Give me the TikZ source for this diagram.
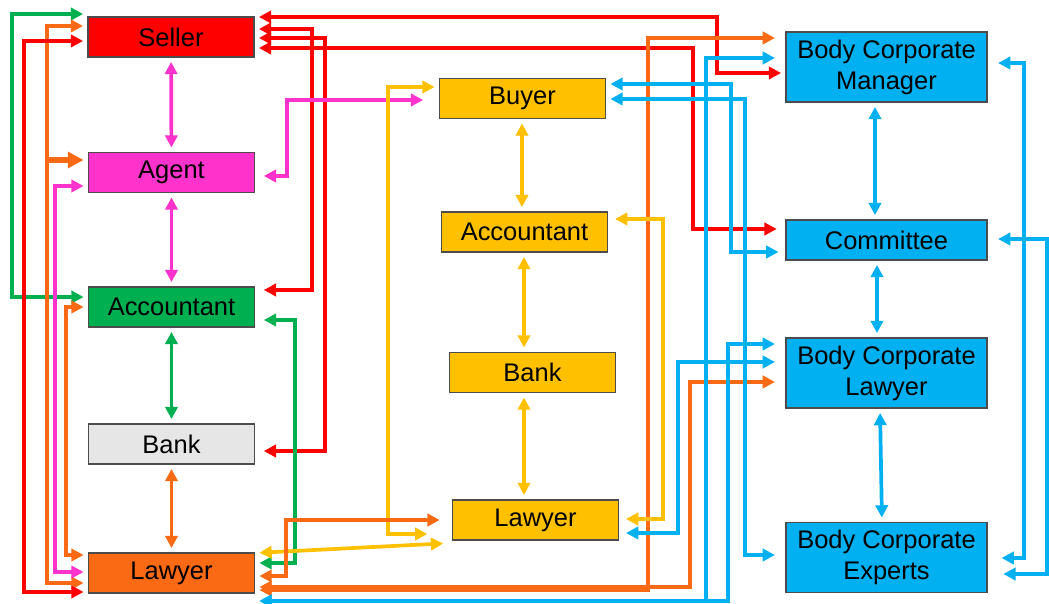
\documentclass[tikz,border=0pt]{standalone}
\usepackage{fontspec}
\setmainfont{Liberation Sans}
\usetikzlibrary{arrows.meta}
\definecolor{sred}{RGB}{255,0,0}
\definecolor{spink}{RGB}{255,51,204}
\definecolor{sgreen}{RGB}{0,176,80}
\definecolor{sgray}{RGB}{230,230,230}
\definecolor{sorange}{RGB}{250,106,20}
\definecolor{sgold}{RGB}{255,192,0}
\definecolor{sblue}{RGB}{0,176,240}
\tikzset{
  party/.style={draw=black!70, line width=0.6pt, fill=#1, minimum width=3.32cm,
    minimum height=0.8cm, inner sep=0pt, align=center,
    font=\fontsize{14.5}{17.6}\selectfont},
  corp/.style={party=sblue, minimum width=4.02cm, minimum height=1.4cm},
  link/.style={draw=#1, line width=2.1pt,
    {Triangle[length=7pt,width=7pt]}-{Triangle[length=7pt,width=7pt]},
    shorten <=2.5pt, shorten >=2.5pt},
}
\begin{document}
\begin{tikzpicture}[x=0.02cm,y=-0.02cm]
  \useasboundingbox (0,0) rectangle (1049,604);

  % seller side
  \node[party=sred]    (seller) at (171,37)    {Seller};
  \node[party=spink]   (agent)  at (171.5,172.5) {Agent};
  \node[party=sgreen]  (accL)   at (171.5,307) {Accountant};
  \node[party=sgray]   (bankL)  at (171.5,444) {Bank};
  \node[party=sorange] (lawL)   at (171.5,573) {Lawyer};

  % buyer side
  \node[party=sgold] (buyer) at (522.5,98.5) {Buyer};
  \node[party=sgold] (accM)  at (524.5,232)  {Accountant};
  \node[party=sgold] (bankM) at (532.5,372.5) {Bank};
  \node[party=sgold] (lawM)  at (535.5,520)  {Lawyer};

  % body corporate
  \node[corp] (bcm)  at (886.5,67)   {Body Corporate\\Manager};
  \node[corp, minimum height=0.8cm] (cmte) at (886.5,240) {Committee};
  \node[corp] (bcl)  at (886.5,373)  {Body Corporate\\Lawyer};
  \node[corp] (bce)  at (886.5,557.5) {Body Corporate\\Experts};

  % columns
  \draw[link=spink]   (seller) -- (agent);
  \draw[link=spink]   (agent) -- (accL);
  \draw[link=sgreen]  (accL) -- (bankL);
  \draw[link=sorange] (bankL) -- (lawL);
  \draw[link=sgold] (buyer.south -| 522,0) -- (accM.north -| 522,0);
  \draw[link=sgold] (accM.south -| 524,0) -- (bankM.north -| 524,0);
  \draw[link=sgold] (bankM.south -| 524,0) -- (lawM.north -| 524,0);
  \draw[link=sblue] (bcm.south -| 875,0) -- (cmte.north -| 875,0);
  \draw[link=sblue] (cmte.south -| 877,0) -- (bcl.north -| 877,0);
  \draw[link=sblue] (bcl.south -| 880,0) -- (bce.north -| 882,0);

  % left of the seller side
  \draw[link=sgreen]  (accL.west |- 0,297) -| (12,14) -- (seller.west |- 0,14);
  \draw[link=sorange] (lawL.west |- 0,583) -| (47,26) -- (seller.west |- 0,26);
  \draw[draw=sorange, line width=3pt, -{Triangle[length=9pt,width=9pt]}, shorten >=2.5pt]
    (47,160) -- (agent.west |- 0,160);
  \draw[link=sred]    (lawL.west |- 0,592) -| (24,41) -- (seller.west |- 0,41);
  \draw[link=spink]   (lawL.west |- 0,572) -| (55,186) -- (agent.west |- 0,186);
  \draw[link=sorange] (lawL.west |- 0,555) -| (66,307) -- (accL.west |- 0,307);

  % from the seller
  \draw[link=sred] (seller.east |- 0,17) -| (717,73) -- (bcm.west |- 0,73);
  \draw[link=sred, shorten >=5pt] (seller.east |- 0,29) -| (312,290) -- (accL.east |- 0,290);
  \draw[link=sred, shorten >=5pt] (seller.east |- 0,38) -| (325,451) -- (bankL.east |- 0,451);
  \draw[link=sred, shorten >=5pt] (seller.east |- 0,48) -| (693,229) -- (cmte.west |- 0,229);

  % agent, accountant, lawyer
  \draw[link=spink, shorten <=5pt, shorten >=9pt] (agent.east |- 0,176) -| (287,100) -- (buyer.west |- 0,100);
  \draw[link=sgreen, shorten <=5pt] (accL.east |- 0,320) -| (295,563) -- (lawL.east |- 0,563);
  \draw[link=sgold, shorten >=14pt] (buyer.west |- 0,87) -| (388,534) -- (lawM.west |- 0,534);
  \draw[link=sgold, shorten >=5pt] (lawL.east |- 0,553) -- (lawM.west |- 0,543);
  \draw[link=sorange, shorten >=7pt] (lawL.east |- 0,576) -| (286,520) -- (lawM.west |- 0,520);
  \draw[link=sorange, shorten >=6pt] (lawL.east |- 0,590) -| (648,38) -- (bcm.west |- 0,38);
  \draw[link=sorange, shorten >=6pt] (lawL.east |- 0,587) -| (690,382) -- (bcl.west |- 0,382);
  \draw[link=sblue, shorten >=6pt] (lawL.east |- 0,601) -| (706,58) -- (bcm.west |- 0,58);
  \draw[link=sblue, shorten >=6pt] (lawL.east |- 0,601) -| (728,344) -- (bcl.west |- 0,344);

  % buyer side to body corporate
  \draw[link=sblue, shorten >=4pt] (buyer.east |- 0,84) -| (731,252) -- (cmte.west |- 0,252);
  \draw[link=sblue, shorten >=6pt] (buyer.east |- 0,99) -| (745,555) -- (bce.west |- 0,555);
  \draw[link=sblue, shorten <=4pt, shorten >=6pt] (lawM.east |- 0,533) -| (678,362) -- (bcl.west |- 0,362);
  \draw[link=sgold, shorten <=4pt, shorten >=4pt] (accM.east |- 0,219) -| (663,519) -- (lawM.east |- 0,519);

  % right of the body corporate
  \draw[link=sblue, shorten <=6pt, shorten >=8pt] (bcm.east |- 0,63) -| (1024,558) -- (bce.east |- 0,558);
  \draw[link=sblue, shorten <=6pt, shorten >=9pt] (cmte.east |- 0,239) -| (1047,574) -- (bce.east |- 0,574);
\end{tikzpicture}
\end{document}
